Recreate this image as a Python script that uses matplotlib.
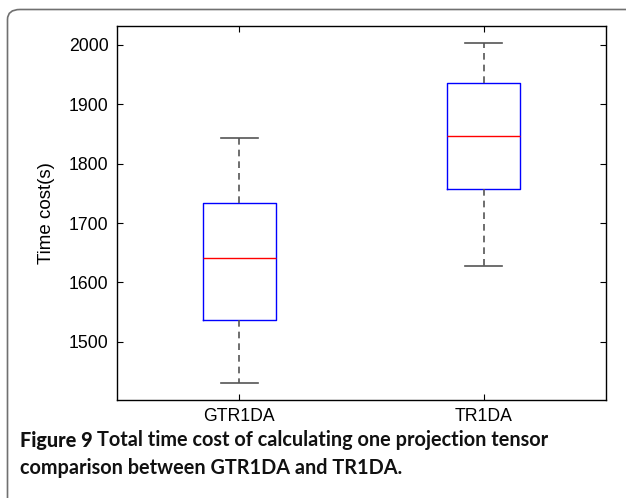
import matplotlib
matplotlib.use('Agg')
import matplotlib.pyplot as plt
from matplotlib.patches import FancyBboxPatch

# box statistics
methods = ['GTR1DA', 'TR1DA']
lower_whisker = [1430, 1628]
q1 = [1536, 1757]
median = [1641, 1847]
q3 = [1734, 1936]
upper_whisker = [1843, 2003]

caption_head = 'Figure 9'
caption_line1 = 'Total time cost of calculating one projection tensor'
caption_line2 = 'comparison between GTR1DA and TR1DA.'

stats = []
for i in range(len(methods)):
    stats.append({'label': methods[i], 'whislo': lower_whisker[i], 'q1': q1[i],
                  'med': median[i], 'q3': q3[i], 'whishi': upper_whisker[i], 'fliers': []})

plt.rcParams['font.family'] = ['Liberation Sans', 'DejaVu Sans']

W, H = 626, 498
fig = plt.figure(figsize=(W / 100, H / 100), dpi=100)

# rounded grey frame around the figure panel (right/bottom run off the page)
frame = FancyBboxPatch((7.5 / W, -0.3), 1.2, 1.3 - 9.5 / H,
                       boxstyle='round,pad=0,rounding_size=0.02',
                       transform=fig.transFigure, facecolor='none',
                       edgecolor='#707070', linewidth=1.2, clip_on=False)
fig.patches.append(frame)

ax = fig.add_axes([117 / W, 1 - 400 / H, (606 - 117) / W, (400 - 26) / H])

ax.bxp(stats, positions=[1, 2], widths=0.3, showfliers=False,
       boxprops=dict(color='#0000ff', linewidth=1.0),
       medianprops=dict(color='#ff0000', linewidth=1.0),
       whiskerprops=dict(color='#555555', linewidth=1.2, linestyle=(0, (4, 3))),
       capprops=dict(color='#555555', linewidth=1.2),
       capwidths=0.15)

ax.set_xlim(0.5, 2.5)
ax.set_ylim(1402, 2032)
ax.set_yticks([1500, 1600, 1700, 1800, 1900, 2000])
ax.set_xticks([1, 2])
ax.set_xticklabels(methods)
ax.tick_params(direction='in', length=4, width=0.8, top=True, right=True,
               labelsize=12.7, pad=6)
for s in ax.spines.values():
    s.set_linewidth(1.0)
ax.set_ylabel('Time cost(s)', fontsize=13.5, labelpad=10)

# caption: bold head, then title text, wrapped over two lines
cap_font = 'Lato'
cap_fs = 14.3
renderer = fig.canvas.get_renderer()
t_head = fig.text(20 / W, 1 - 440 / H, caption_head, fontsize=cap_fs, fontweight='black',
                  family=cap_font, va='center', color='#111111')
bb = t_head.get_window_extent(renderer)
fig.text((bb.x1 + 4) / W, 1 - 440 / H, caption_line1, fontsize=cap_fs, fontweight='bold',
         family=cap_font, va='center', color='#111111')
fig.text(20 / W, 1 - 468 / H, caption_line2, fontsize=cap_fs, fontweight='bold',
         family=cap_font, va='center', color='#111111')

fig.savefig('out.png', dpi=100)
